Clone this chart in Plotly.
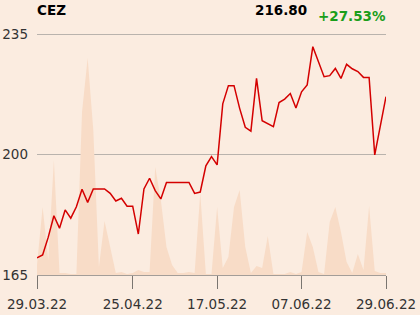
import plotly.graph_objects as go

# --- data ---
price = [170.0, 170.8, 176.0, 182.2, 178.6, 183.9, 181.5, 184.8, 189.9, 186.1,
         190.0, 190.0, 190.0, 188.7, 186.5, 187.3, 185.0, 185.0, 176.9, 190.0,
         193.1, 189.5, 187.1, 191.9, 191.9, 191.8, 191.8, 191.9, 188.7, 189.1,
         196.7, 199.4, 197.0, 214.7, 220.0, 220.0, 213.4, 207.9, 206.8, 222.1,
         209.8, 208.9, 208.1, 215.1, 216.1, 217.7, 213.5, 218.2, 220.2, 231.3,
         227.0, 222.6, 222.9, 225.0, 222.1, 226.2, 224.9, 224.1, 222.4, 222.4,
         199.9, 208.1, 216.8]

volume = [100, 680, 150, 1150, 20, 20, 10, 10, 1630, 2170,
          1450, 80, 540, 280, 20, 30, 10, 20, 50, 30,
          30, 1080, 750, 280, 100, 20, 20, 30, 20, 820,
          10, 10, 680, 70, 180, 680, 850, 280, 20, 90,
          70, 390, 10, 10, 10, 30, 10, 30, 430, 280,
          30, 10, 530, 680, 430, 130, 20, 210, 50, 690,
          40, 20, 20]

tick_index = [0, 17, 32, 47, 62]
tick_labels = ["29.03.22", "25.04.22", "17.05.22", "07.06.22", "29.06.22"]

y_ticks = [165, 200, 235]
name = "CEZ"
last_price = "216.80"
change = "+27.53%"

x = list(range(len(price)))

BG = "#fbece0"
GRID = "#b9b3ad"
TEXT = "#333333"
FONT = "DejaVu Sans"

fig = go.Figure()

# volume on the primary (hidden) axis so it is drawn underneath
fig.add_trace(go.Scatter(
    x=x, y=volume, yaxis="y", mode="lines",
    line=dict(width=0, color="#f8dcc7"),
    fill="tozeroy", fillcolor="#f8dcc7",
    hoverinfo="skip", showlegend=False,
))

# price on the overlaying axis, drawn on top
fig.add_trace(go.Scatter(
    x=x, y=price, yaxis="y2", mode="lines",
    line=dict(color="#d40000", width=1.5),
    showlegend=False,
))

fig.update_layout(
    width=420, height=315,
    margin=dict(l=37, r=34, t=31, b=40, autoexpand=False),
    paper_bgcolor=BG, plot_bgcolor=BG,
    font=dict(family=FONT, size=13.5, color=TEXT),
    xaxis=dict(
        range=[0, len(price) - 1],
        tickmode="array", tickvals=tick_index, ticktext=tick_labels,
        ticks="outside", ticklen=13, tickcolor="#7a7570", tickwidth=1,
        ticklabelstandoff=4,
        showgrid=False, zeroline=False, automargin=False,
        showline=True, linecolor="#a39d98", linewidth=1,
        tickfont=dict(size=13.5, color=TEXT),
    ),
    yaxis=dict(
        range=[0, 2440], visible=False, showgrid=False, zeroline=False,
        automargin=False,
    ),
    yaxis2=dict(
        overlaying="y", side="left",
        range=[165, 235.87], tickmode="array", tickvals=y_ticks,
        showgrid=True, gridcolor=GRID, gridwidth=1,
        zeroline=False, showline=False, ticks="",
        ticklabelstandoff=8, automargin=False,
        tickfont=dict(size=13.5, color=TEXT),
    ),
    annotations=[
        dict(text="<b>" + name + "</b>", xref="paper", yref="paper",
             x=-0.006, y=1.086, xanchor="left", yanchor="middle",
             showarrow=False, font=dict(size=13.5, color="#000000")),
        dict(text="<b>" + last_price + "</b>", xref="paper", yref="paper",
             x=0.7785, y=1.086, xanchor="right", yanchor="middle",
             showarrow=False, font=dict(size=13.5, color="#000000")),
        dict(text="<b>" + change + "</b>", xref="paper", yref="paper",
             x=1.006, y=1.0615, xanchor="right", yanchor="middle",
             showarrow=False, font=dict(size=13.5, color="#1a9e1a")),
    ],
)

fig.write_html("out.html")
